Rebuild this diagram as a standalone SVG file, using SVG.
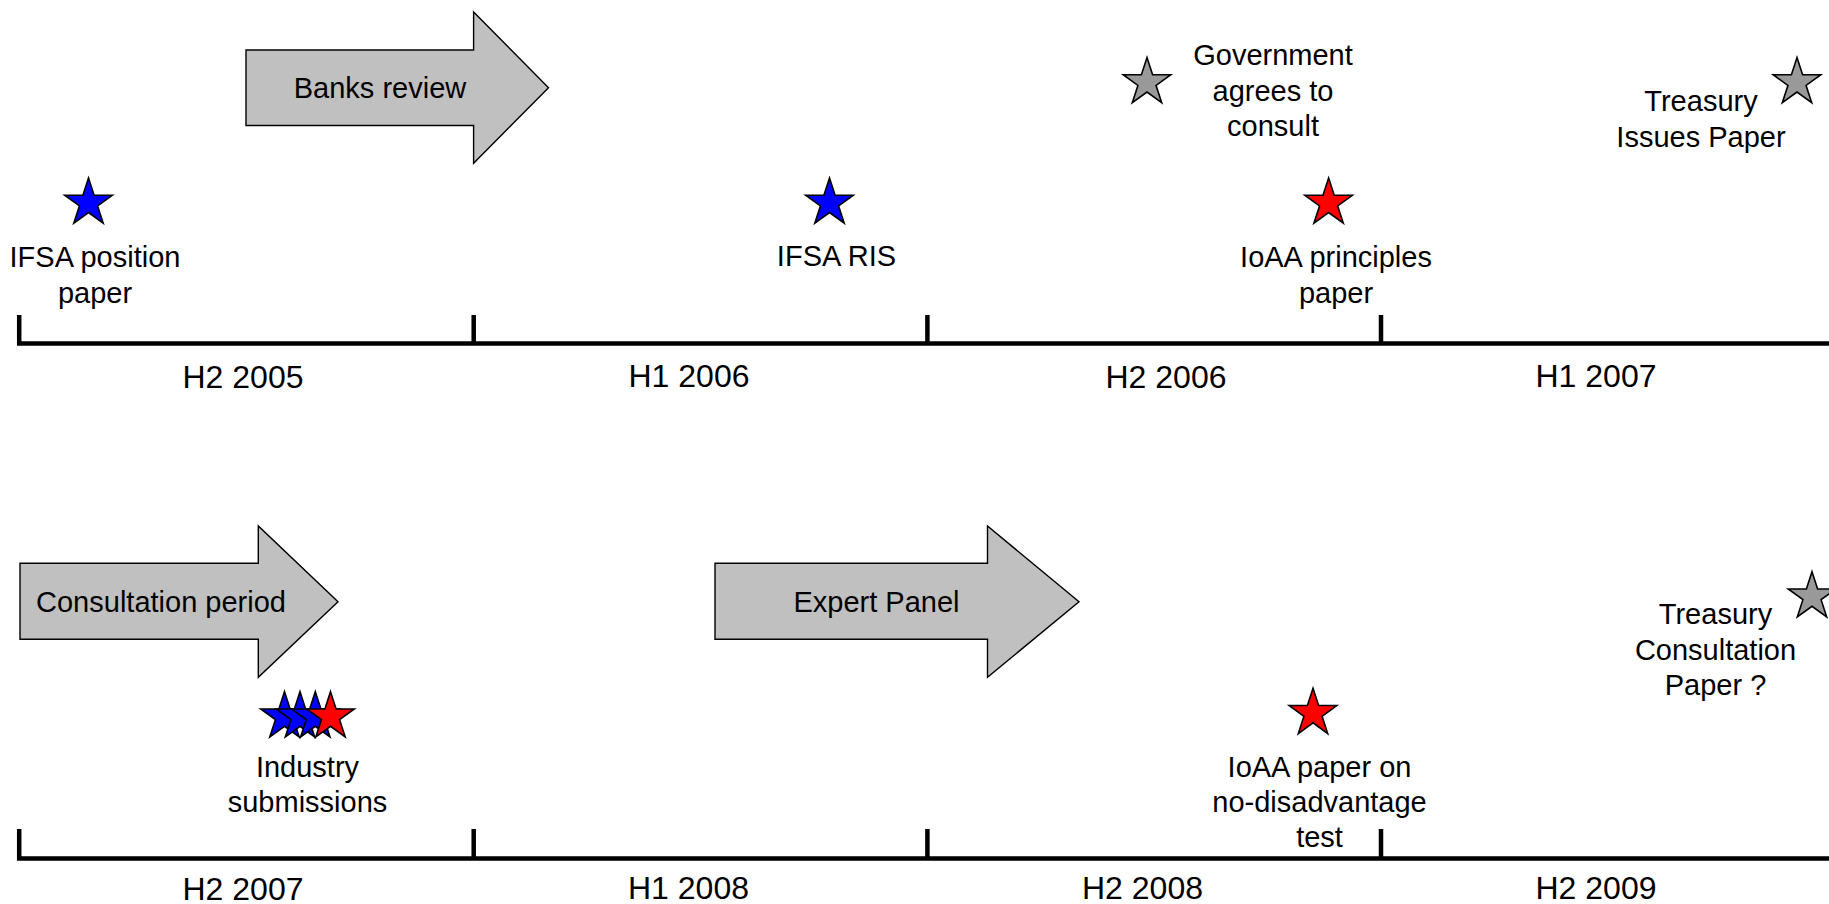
<svg xmlns="http://www.w3.org/2000/svg" xmlns:xlink="http://www.w3.org/1999/xlink" width="1829" height="904" viewBox="0 0 1829 904">
<style>
  .ev { font-family: "Liberation Sans", Arial, sans-serif; font-size: 29px; fill: #000; text-anchor: middle; }
  .per { font-family: "Liberation Sans", Arial, sans-serif; font-size: 32px; fill: #000; text-anchor: middle; }
  .arrow { fill: #c0c0c0; stroke: #000; stroke-width: 1.4; stroke-linejoin: miter; }
  .axis { stroke: #000; stroke-width: 4.5; fill: none; }
  .star { stroke: #000; stroke-width: 1.6; stroke-linejoin: miter; }
  .blue { fill: #0000ff; }
  .red { fill: #ff0000; }
  .gray { fill: #999999; }
</style>
<defs>
  <polygon id="star5" points="0,-25 5.61,-7.73 23.78,-7.73 9.08,2.95 14.69,20.23 0,9.55 -14.69,20.23 -9.08,2.95 -23.78,-7.73 -5.61,-7.73"/>
</defs>
<rect width="1829" height="904" fill="#fff"/>

<g id="axes">
  <g id="timeline-top">
    <path class="axis" d="M17,343.5 H1829 M19.2,315 V345.5 M473.7,315 V345.5 M927.4,315 V345.5 M1381,315 V345.5"/>
  </g>
  <g id="timeline-bottom">
    <path class="axis" d="M17,858.5 H1829 M19.2,829 V860.5 M473.7,829 V860.5 M927.4,829 V860.5 M1381,829 V860.5"/>
  </g>
</g>

<g id="period-labels">
  <text class="per" x="243" y="388">H2 2005</text>
  <text class="per" x="689" y="387">H1 2006</text>
  <text class="per" x="1166" y="388">H2 2006</text>
  <text class="per" x="1596" y="387">H1 2007</text>
  <text class="per" x="243" y="900">H2 2007</text>
  <text class="per" x="688.5" y="899">H1 2008</text>
  <text class="per" x="1142.5" y="899">H2 2008</text>
  <text class="per" x="1596" y="899">H2 2009</text>
</g>

<g id="banks-review">
  <path class="arrow" d="M246,50 H473.6 V12 L548.5,87.7 L473.6,163.3 V125.5 H246 Z"/>
  <text class="ev" x="380" y="98">Banks review</text>
</g>

<g id="consultation-period">
  <path class="arrow" d="M20,563.3 H258.3 V526 L338,601.7 L258.3,677.3 V639.3 H20 Z"/>
  <text class="ev" x="161" y="612">Consultation period</text>
</g>

<g id="expert-panel">
  <path class="arrow" d="M715,563.3 H987.5 V526 L1079,601.7 L987.5,677.3 V639.3 H715 Z"/>
  <text class="ev" x="876.5" y="612">Expert Panel</text>
</g>

<g id="ifsa-position-paper">
  <use xlink:href="#star5" class="star blue" x="88.5" y="203"/>
  <text class="ev" x="95" y="267">IFSA position</text>
  <text class="ev" x="95" y="303">paper</text>
</g>

<g id="ifsa-ris">
  <use xlink:href="#star5" class="star blue" x="829.5" y="203"/>
  <text class="ev" x="836.5" y="266">IFSA RIS</text>
</g>

<g id="government-agrees">
  <use xlink:href="#star5" class="star gray" x="1147" y="82.5"/>
  <text class="ev" x="1273" y="65">Government</text>
  <text class="ev" x="1273" y="100.5">agrees to</text>
  <text class="ev" x="1273" y="136">consult</text>
</g>

<g id="ioaa-principles">
  <use xlink:href="#star5" class="star red" x="1328.6" y="203"/>
  <text class="ev" x="1336" y="267">IoAA principles</text>
  <text class="ev" x="1336" y="303">paper</text>
</g>

<g id="treasury-issues-paper">
  <use xlink:href="#star5" class="star gray" x="1797" y="82.5"/>
  <text class="ev" x="1701" y="110.7">Treasury</text>
  <text class="ev" x="1701" y="146.7">Issues Paper</text>
</g>

<g id="industry-submissions">
  <use xlink:href="#star5" class="star blue" x="284.5" y="716.7"/>
  <use xlink:href="#star5" class="star blue" x="300" y="716.7"/>
  <use xlink:href="#star5" class="star blue" x="315.3" y="716.7"/>
  <use xlink:href="#star5" class="star red" x="330.5" y="716.7"/>
  <text class="ev" x="307.5" y="777">Industry</text>
  <text class="ev" x="307.5" y="812">submissions</text>
</g>

<g id="ioaa-no-disadvantage">
  <use xlink:href="#star5" class="star red" x="1313" y="713.3"/>
  <text class="ev" x="1319.5" y="777">IoAA paper on</text>
  <text class="ev" x="1319.5" y="812">no-disadvantage</text>
  <text class="ev" x="1319.5" y="847">test</text>
</g>

<g id="treasury-consultation-paper">
  <use xlink:href="#star5" class="star gray" x="1812" y="596.7"/>
  <text class="ev" x="1715.5" y="624">Treasury</text>
  <text class="ev" x="1715.5" y="660">Consultation</text>
  <text class="ev" x="1715.5" y="695">Paper ?</text>
</g>
</svg>
